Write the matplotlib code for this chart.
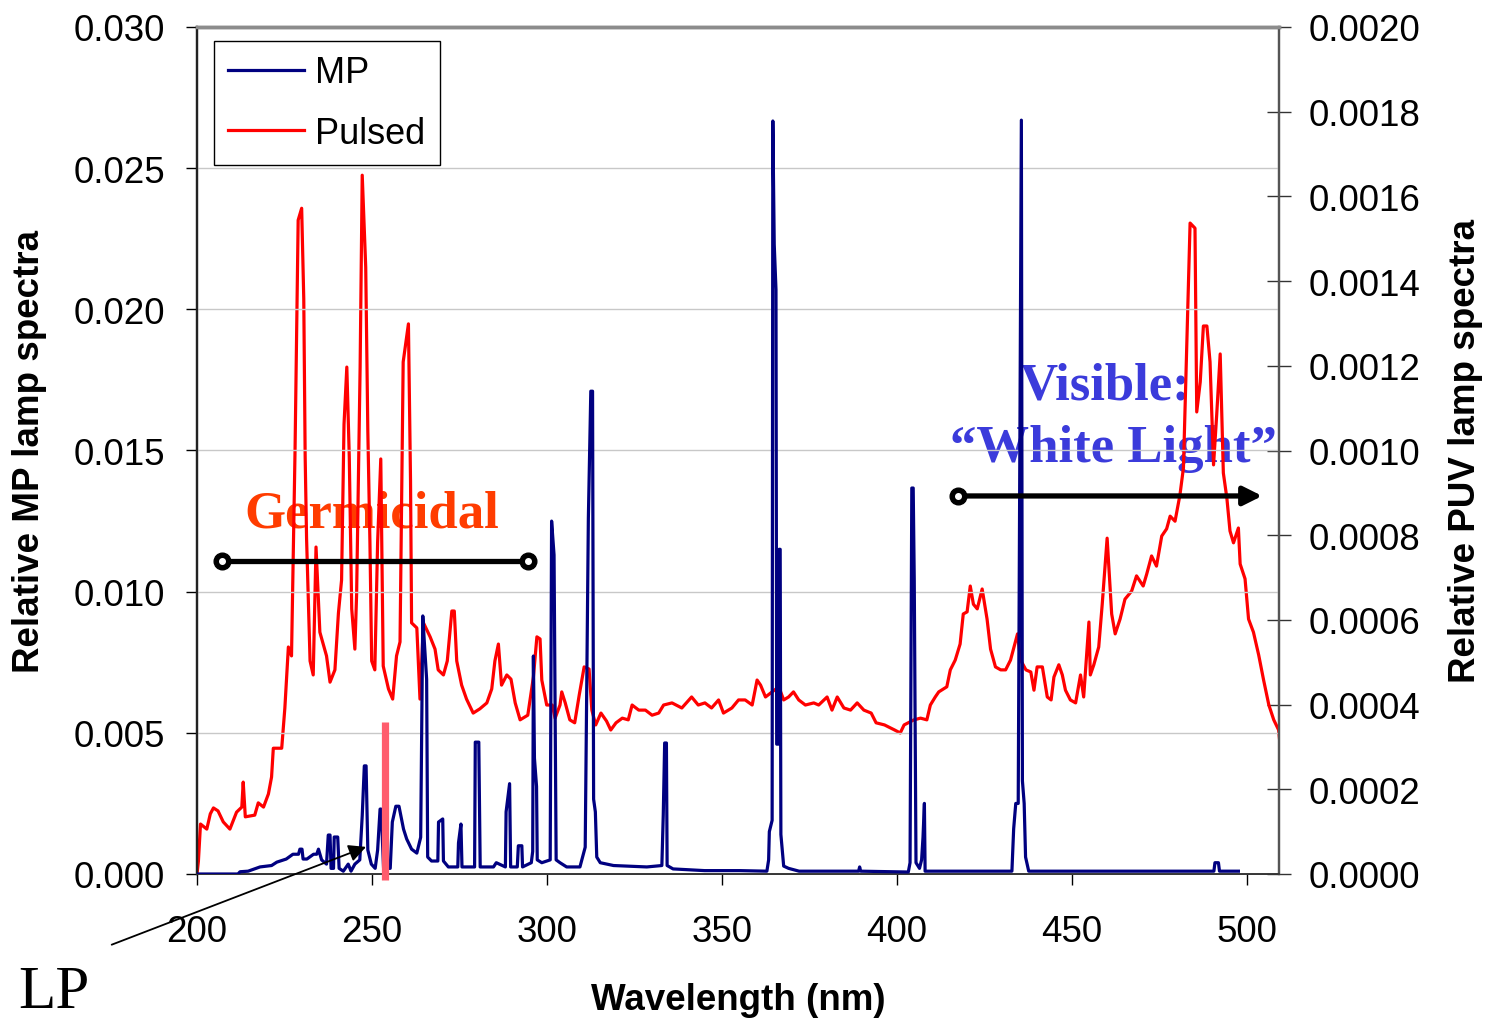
import matplotlib
matplotlib.use("Agg")
import matplotlib.pyplot as plt

plt.rcParams["font.family"] = ["Liberation Sans", "DejaVu Sans"]

# MP lamp spectrum (left axis)
mp_nm = [200.0, 211.7, 212.3, 214.6, 218.0, 221.3, 222.8, 225.5, 227.4, 229.0, 229.4, 230.0,
         230.3, 231.4, 233.3, 234.2, 234.7, 235.6, 237.0, 237.5, 238.0, 238.3, 239.0, 239.2,
         240.2, 240.6, 241.8, 243.2, 244.0, 245.1, 246.5, 247.2, 247.8, 248.3, 248.8, 249.8,
         250.9, 251.6, 252.3, 252.6, 253.3, 255.2, 255.8, 256.8, 257.7, 258.5, 259.0, 259.9,
         261.3, 262.8, 263.9, 264.5, 264.9, 265.6, 265.9, 267.0, 268.8, 269.0, 270.2, 270.4,
         271.8, 274.5, 274.7, 275.4, 275.7, 279.3, 279.5, 280.5, 280.9, 284.7, 285.5, 288.1,
         288.3, 289.3, 289.6, 291.5, 291.8, 292.8, 293.0, 295.5, 295.9, 296.1, 296.4, 297.0,
         297.2, 298.5, 300.9, 301.3, 302.0, 302.6, 303.7, 305.6, 309.4, 310.9, 311.8, 312.5,
         313.0, 313.3, 313.8, 314.2, 315.2, 319.0, 328.5, 332.8, 333.2, 333.6, 334.1, 334.3,
         336.0, 345.0, 355.0, 362.8, 363.3, 363.5, 364.3, 364.5, 364.9, 365.4, 365.6, 366.1,
         366.3, 366.6, 366.8, 367.6, 369.0, 372.0, 389.0, 389.3, 389.6, 403.2, 403.7, 404.2,
         404.6, 404.9, 405.4, 406.4, 407.0, 407.4, 407.8, 408.0, 432.8, 433.3, 433.9, 434.6,
         435.5, 435.8, 436.3, 436.7, 437.6, 490.5, 490.8, 491.8, 492.1, 497.5]
mp_val = [0.0, 0.0, 0.00008, 0.0001, 0.00025, 0.0003, 0.00042, 0.00053, 0.0007, 0.0007, 0.00088, 0.00088,
          0.00053, 0.00053, 0.0007, 0.0007, 0.00088, 0.0005, 0.00035, 0.00138, 0.00138, 0.0002, 0.0002, 0.00131,
          0.00131, 0.0002, 0.0001, 0.00035, 0.0001, 0.00035, 0.0005, 0.00206, 0.00383, 0.00383, 0.00085, 0.00035,
          0.0002, 0.00085, 0.0023, 0.0023, 0.0002, 0.0002, 0.00184, 0.0024, 0.0024, 0.0019, 0.00159, 0.00124,
          0.00088, 0.00074, 0.0013, 0.00914, 0.0083, 0.0069, 0.0006, 0.00046, 0.00046, 0.00184, 0.00195, 0.00046,
          0.00025, 0.00025, 0.0011, 0.00177, 0.00025, 0.00025, 0.00467, 0.00467, 0.00025, 0.00025, 0.0004, 0.00025,
          0.0022, 0.0032, 0.00025, 0.00025, 0.001, 0.001, 0.00025, 0.0004, 0.0008, 0.00772, 0.0041, 0.0031,
          0.0005, 0.0004, 0.0005, 0.0125, 0.0113, 0.0005, 0.0004, 0.00025, 0.00025, 0.00095, 0.0126, 0.0171,
          0.0171, 0.00265, 0.0022, 0.0006, 0.0004, 0.0003, 0.00025, 0.0003, 0.0021, 0.00464, 0.00464, 0.0003,
          0.00018, 0.00012, 0.00012, 0.0001, 0.0005, 0.0015, 0.0019, 0.02667, 0.0223, 0.0207, 0.0046, 0.0046,
          0.0115, 0.0115, 0.0014, 0.00028, 0.0002, 0.0001, 0.0001, 0.00025, 0.0001, 0.00007, 0.0004, 0.01367,
          0.01367, 0.0104, 0.0004, 0.0002, 0.0005, 0.0013, 0.0025, 0.0001, 0.0001, 0.0016, 0.0025, 0.0025,
          0.0267, 0.0033, 0.0025, 0.0006, 0.0001, 0.0001, 0.0004, 0.0004, 0.0001, 0.0001]

# Pulsed (PUV) lamp spectrum (right axis)
puv_nm = [200.0, 200.4, 201.0, 202.8, 203.8, 204.7, 206.0, 207.5, 209.4, 211.3, 212.8, 213.2,
          213.8, 216.5, 217.5, 219.0, 220.4, 221.3, 221.8, 224.2, 225.1, 226.1, 227.0, 228.0,
          228.9, 229.9, 230.5, 230.9, 231.3, 232.3, 233.2, 234.0, 235.1, 237.0, 238.0, 239.4,
          240.4, 241.3, 242.0, 242.8, 243.5, 244.2, 245.1, 245.6, 246.6, 247.2, 248.2, 248.8,
          249.4, 249.9, 250.8, 251.6, 252.5, 253.2, 254.7, 255.9, 257.0, 258.0, 258.9, 260.4,
          261.0, 261.3, 262.8, 263.7, 264.7, 266.6, 268.0, 268.9, 270.4, 271.5, 272.8, 273.5,
          274.2, 275.6, 277.0, 278.9, 280.8, 282.8, 284.2, 285.1, 286.1, 287.0, 288.5, 289.7,
          290.9, 292.3, 294.5, 296.1, 297.1, 298.0, 298.5, 299.9, 301.5, 302.3, 303.7, 304.2,
          305.2, 306.5, 307.9, 309.2, 310.6, 312.0, 312.8, 313.9, 315.4, 317.0, 318.2, 319.7,
          321.5, 323.2, 324.3, 326.2, 328.1, 330.0, 331.9, 333.3, 335.7, 338.5, 341.3, 343.2,
          345.1, 347.0, 349.0, 350.4, 352.8, 354.7, 356.6, 358.6, 360.0, 361.0, 362.4, 364.3,
          366.2, 367.6, 369.0, 370.4, 371.9, 373.8, 376.2, 377.6, 380.0, 381.4, 382.9, 384.8,
          386.7, 388.6, 390.5, 392.6, 394.0, 396.4, 399.3, 400.9, 402.0, 404.8, 406.7, 408.5,
          409.5, 410.9, 411.9, 414.2, 415.2, 416.6, 418.0, 418.9, 420.0, 420.9, 421.8, 422.9,
          424.3, 425.7, 426.7, 428.1, 429.6, 431.0, 432.4, 434.4, 435.3, 436.8, 438.2, 439.1,
          440.0, 441.5, 442.9, 444.0, 444.8, 446.2, 447.2, 448.1, 449.5, 451.0, 452.4, 453.3,
          454.8, 455.2, 456.2, 457.6, 458.6, 460.0, 460.7, 461.3, 462.3, 463.7, 465.1, 467.0,
          468.4, 470.3, 471.3, 472.7, 474.1, 475.6, 477.0, 478.0, 479.4, 480.8, 481.8, 482.7,
          483.7, 485.1, 485.6, 486.6, 487.5, 488.5, 489.4, 490.4, 491.3, 492.3, 493.2, 494.2,
          495.1, 496.1, 497.5, 498.0, 499.4, 500.4, 501.8, 503.3, 504.7, 506.2, 507.6, 509.0,
          509.5]
puv_val = [0.0, 0.00003, 0.000118, 0.000106, 0.000142, 0.000156, 0.000149, 0.000123, 0.000106, 0.000146, 0.000158, 0.000217,
           0.000135, 0.000139, 0.000168, 0.000158, 0.000189, 0.000229, 0.000297, 0.000297, 0.000392, 0.000536, 0.000515, 0.000996,
           0.001544, 0.001572, 0.001358, 0.000985, 0.000793, 0.000503, 0.00047, 0.000772, 0.000571, 0.000515, 0.000453, 0.000482,
           0.000616, 0.000694, 0.001062, 0.001197, 0.000985, 0.000626, 0.000531, 0.000661, 0.001197, 0.00165, 0.001433, 0.001046,
           0.000784, 0.000503, 0.000482, 0.000784, 0.00098, 0.000491, 0.000437, 0.000413, 0.000515, 0.000548, 0.001209, 0.001299,
           0.000928, 0.000593, 0.000581, 0.000413, 0.000593, 0.00056, 0.000531, 0.000482, 0.00047, 0.000503, 0.000621, 0.000621,
           0.000503, 0.000446, 0.000413, 0.00038, 0.00039, 0.000404, 0.000437, 0.000503, 0.000543, 0.000446, 0.00047, 0.00046,
           0.000404, 0.000364, 0.000375, 0.000465, 0.00056, 0.000555, 0.000458, 0.000399, 0.000399, 0.000368, 0.000399, 0.00043,
           0.000404, 0.000364, 0.000357, 0.000423, 0.000489, 0.000484, 0.000387, 0.000352, 0.00038, 0.000361, 0.00034, 0.000357,
           0.000368, 0.000364, 0.000399, 0.000387, 0.000387, 0.000375, 0.00038, 0.000399, 0.000404, 0.000392, 0.000418, 0.000399,
           0.000404, 0.000392, 0.000411, 0.00038, 0.000392, 0.000411, 0.000411, 0.000399, 0.000458, 0.000446, 0.000418, 0.00043,
           0.000442, 0.000411, 0.000418, 0.00043, 0.000411, 0.000399, 0.000404, 0.000399, 0.000418, 0.000387, 0.000418, 0.000392,
           0.000387, 0.000404, 0.000387, 0.00038, 0.000357, 0.000352, 0.00034, 0.000333, 0.000352, 0.000364, 0.000368, 0.000364,
           0.000399, 0.000418, 0.00043, 0.000442, 0.000482, 0.000505, 0.000543, 0.000614, 0.000619, 0.00068, 0.000637, 0.000626,
           0.000673, 0.000602, 0.000531, 0.000489, 0.000482, 0.000482, 0.000505, 0.000567, 0.000505, 0.000482, 0.000477, 0.000434,
           0.000489, 0.000489, 0.000418, 0.000411, 0.000465, 0.000494, 0.00047, 0.000434, 0.000411, 0.000404, 0.00047, 0.000418,
           0.000595, 0.00047, 0.000494, 0.000536, 0.000637, 0.000793, 0.000697, 0.000614, 0.000567, 0.000602, 0.000649, 0.000668,
           0.000704, 0.00068, 0.000708, 0.000751, 0.000727, 0.000798, 0.000815, 0.000845, 0.000833, 0.000895, 0.000959, 0.001235,
           0.001537, 0.001525, 0.001091, 0.001162, 0.001294, 0.001294, 0.001209, 0.000966, 0.001084, 0.001228, 0.000947, 0.000888,
           0.00081, 0.000782, 0.000817, 0.000732, 0.000697, 0.000602, 0.000571, 0.000517, 0.000458, 0.000399, 0.000364, 0.00034,
           0.000297]

left_ticks = [0.000, 0.005, 0.010, 0.015, 0.020, 0.025, 0.030]
right_ticks = [0.0000, 0.0002, 0.0004, 0.0006, 0.0008, 0.0010, 0.0012, 0.0014, 0.0016, 0.0018, 0.0020]
x_ticks = [200, 250, 300, 350, 400, 450, 500]

# annotation anchors (wavelength / left-axis value)
lp_line_nm = 253.7
lp_line_top = 0.0054
germ_span = (207.1, 294.6)
germ_level = 0.0111
vis_span = (417.4, 504.3)
vis_level = 0.01339

fig = plt.figure(figsize=(14.89, 10.20), dpi=100)
ax2 = fig.add_axes([197 / 1489, 1 - 875 / 1020, 1082 / 1489, 847 / 1020])
ax = ax2.twinx()
# left (MP) axis sits on top so the MP trace is drawn above the pulsed one
ax.yaxis.set_label_position("left")
ax.yaxis.tick_left()
ax2.yaxis.set_label_position("right")
ax2.yaxis.tick_right()
ax.set_zorder(ax2.get_zorder() + 1)
ax.patch.set_visible(False)

TICK_FS = 26.5
LABEL_FS = 26.5

# pulsed on right scale
ax2.plot(puv_nm, puv_val, color="#FF0000", linewidth=2.3, label="Pulsed", zorder=2)
ax2.set_ylim(0, 0.0020)
ax2.set_yticks(right_ticks)
ax2.set_yticklabels([f"{v:.4f}" for v in right_ticks], fontsize=TICK_FS)
ax2.tick_params(axis="y", direction="inout", length=17, width=1.0, pad=13, color="#333333")
ax2.set_ylabel("Relative PUV lamp spectra", fontsize=LABEL_FS, fontweight="bold")
ax2.yaxis.set_label_coords(1.156, 0.5)

# MP on left scale
ax.plot(mp_nm, mp_val, color="#000080", linewidth=2.3, label="MP", zorder=3)
ax.set_ylim(0, 0.030)
ax.set_yticks(left_ticks)
ax.set_yticklabels([f"{v:.3f}" for v in left_ticks], fontsize=TICK_FS)
ax.tick_params(axis="y", direction="out", length=8, width=1.0, pad=15)
ax.set_ylabel("Relative MP lamp spectra", fontsize=LABEL_FS, fontweight="bold")
ax.yaxis.set_label_coords(-0.139, 0.5)
ax.grid(axis="y", color="#C8C8C8", linewidth=1.0)

ax2.set_xlim(200, 509.1)
ax2.set_xticks(x_ticks)
ax2.set_xticklabels([str(v) for v in x_ticks], fontsize=TICK_FS)
ax2.tick_params(axis="x", direction="out", length=8, width=1.0, pad=21)
ax2.set_xlabel("Wavelength (nm)", fontsize=LABEL_FS, fontweight="bold")
ax2.xaxis.label.set_va("center")
ax2.xaxis.set_label_coords(0.5, -0.148)

for a in (ax, ax2):
    a.spines["top"].set_color("#8C8C8C")
    a.spines["top"].set_linewidth(2.5)
    a.spines["right"].set_color("#555555")
    a.spines["right"].set_linewidth(1.6)
    a.spines["left"].set_color("#222222")
    a.spines["left"].set_linewidth(1.6)
    a.spines["bottom"].set_color("#333333")
    a.spines["bottom"].set_linewidth(1.2)

# region labels sit below the traces
ax2.text(371.5 / 1489, 1 - 528 / 1020, "Germicidal", transform=fig.transFigure,
         family="Liberation Serif", fontweight="bold", fontsize=38, color="#FF3C00",
         ha="center", va="baseline", zorder=1)
ax2.text(1105 / 1489, 1 - 400 / 1020, "Visible:", transform=fig.transFigure,
         family="Liberation Serif", fontweight="bold", fontsize=38, color="#3B3BDB",
         ha="center", va="baseline", zorder=1)
ax2.text(1113 / 1489, 1 - 462 / 1020, "\u201cWhite Light\u201d", transform=fig.transFigure,
         family="Liberation Serif", fontweight="bold", fontsize=38, color="#3B3BDB",
         ha="center", va="baseline", zorder=1)

# LP 254 nm line
ax.plot([lp_line_nm, lp_line_nm], [-0.0002, lp_line_top], color="#FF5C6C",
        linewidth=5.2, solid_capstyle="butt", clip_on=False, zorder=4)

# germicidal range bar
ax.plot(germ_span, [germ_level, germ_level], color="black", linewidth=3.8, zorder=6)
ax.plot(germ_span, [germ_level, germ_level], linestyle="none", marker="o",
        markersize=12, color="black", zorder=7)
ax.plot(germ_span, [germ_level, germ_level], linestyle="none", marker="o",
        markersize=4, color="white", zorder=8)

# visible range arrow
ax.annotate("", xy=(vis_span[1], vis_level), xytext=(vis_span[0], vis_level),
            arrowprops=dict(arrowstyle="-|>", color="black", lw=3.8, mutation_scale=28,
                            shrinkA=0, shrinkB=0), zorder=6)
ax.plot([vis_span[0]], [vis_level], linestyle="none", marker="o", markersize=12,
        color="black", zorder=7)
ax.plot([vis_span[0]], [vis_level], linestyle="none", marker="o", markersize=4,
        color="white", zorder=8)

# LP pointer
ax.annotate("", xy=(248.3, 0.00096), xytext=(111.7, 1020 - 945.7), textcoords="figure pixels",
            arrowprops=dict(arrowstyle="-|>", color="black", lw=1.3, mutation_scale=26,
                            shrinkA=0, shrinkB=0), annotation_clip=False, zorder=9)
fig.text(18 / 1489, 1 - 1008 / 1020, "LP", family="Liberation Serif", fontsize=44,
         ha="left", va="baseline")

h1, l1 = ax.get_legend_handles_labels()
h2, l2 = ax2.get_legend_handles_labels()
leg = ax.legend(h1 + h2, l1 + l2, loc="upper left",
                bbox_to_anchor=(214 / 1489, 1 - 42 / 1020), bbox_transform=fig.transFigure,
                borderaxespad=0, fontsize=26, frameon=True, fancybox=False, framealpha=1,
                edgecolor="black", borderpad=0.4, handlelength=2.1, handletextpad=0.3,
                labelspacing=0.7)
leg.get_frame().set_linewidth(1.0)
leg.set_zorder(10)

fig.savefig("out.png", dpi=100)
